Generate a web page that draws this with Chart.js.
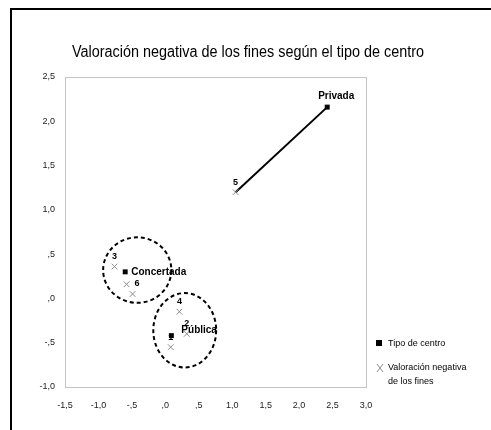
<!DOCTYPE html>
<html>
<head>
<meta charset="utf-8">
<script src="https://cdn.jsdelivr.net/npm/chart.js@4/dist/chart.umd.min.js"></script>
<style>
html, body { margin: 0; padding: 0; background: #fff; }
#wrap { width: 491px; height: 430px; }
</style>
</head>
<body>
<div id="wrap"><canvas id="chart" width="491" height="430"></canvas></div>
<script>
"use strict";
// centros (centroides)
const centros = ['Privada', 'Concertada', 'Pública'];
const centroX = [2.42, -0.60, 0.09];
const centroY = [2.16, 0.30, -0.42];
// fines
const fines = ['1', '2', '3', '4', '5', '6', '7'];
const finX = [0.08, 0.32, -0.76, 0.21, 1.05, -0.58, -0.49];
const finY = [-0.55, -0.40, 0.36, -0.15, 1.20, 0.16, 0.05];
// grupos rodeados por elipse discontinua
const grupoX = [-0.42, 0.29];
const grupoY = [0.32, -0.36];
const grupoRX = [0.51, 0.47];
const grupoRY = [0.37, 0.42];
// ejes
const xTicks = [-1.5, -1.0, -0.5, 0, 0.5, 1.0, 1.5, 2.0, 2.5, 3.0];
const xTickLabels = ['-1,5', '-1,0', '-,5', ',0', ',5', '1,0', '1,5', '2,0', '2,5', '3,0'];
const yTicks = [-1.0, -0.5, 0, 0.5, 1.0, 1.5, 2.0, 2.5];
const yTickLabels = ['-1,0', '-,5', ',0', ',5', '1,0', '1,5', '2,0', '2,5'];
const titulo = 'Valoración negativa de los fines según el tipo de centro';

const canvas = document.getElementById('chart');
const ctx = canvas.getContext('2d');

// donde va cada etiqueta respecto a su punto (null = tapada en el original)
const posCentro = { 'Privada': [9, -11, 'center'], 'Concertada': [6, 0, 'left'], 'Pública': [10, -5, 'left'] };
const posFin = { '6': [8, -1, 'left'], '7': null };

const extras = {
    id: 'extras',
    beforeDraw(chart) {
        const c = chart.ctx;
        c.save();
        c.fillStyle = '#fff';
        c.fillRect(0, 0, chart.width, chart.height);
        c.strokeStyle = '#000';
        c.lineWidth = 2;
        c.beginPath();
        c.moveTo(11, 430);
        c.lineTo(11, 9);
        c.lineTo(491, 9);
        c.stroke();
        // titulo estrecho, como el original
        c.fillStyle = '#000';
        c.font = '16px "Liberation Sans", Arial, sans-serif';
        c.textAlign = 'center';
        c.textBaseline = 'middle';
        c.translate(248, 53);
        c.scale(0.9, 1);
        c.fillText(titulo, 0, 0);
        c.restore();
    },
    afterDatasetsDraw(chart) {
        const c = chart.ctx;
        const a = chart.chartArea;
        const xs = chart.scales.x, ys = chart.scales.y;
        c.save();
        c.strokeStyle = '#c4c4c4';
        c.lineWidth = 1;
        c.strokeRect(a.left + 0.5, a.top + 0.5, a.right - a.left, a.bottom - a.top);

        // elipses
        c.strokeStyle = '#000';
        c.lineWidth = 2;
        c.setLineDash([4, 3]);
        grupoX.forEach((gx, i) => {
            const px = xs.getPixelForValue(gx), py = ys.getPixelForValue(grupoY[i]);
            const rx = xs.getPixelForValue(gx + grupoRX[i]) - px;
            const ry = py - ys.getPixelForValue(grupoY[i] + grupoRY[i]);
            c.beginPath();
            c.ellipse(px, py, rx, ry, 0, 0, Math.PI * 2);
            c.stroke();
        });
        c.setLineDash([]);

        // etiquetas
        c.fillStyle = '#000';
        c.textBaseline = 'middle';
        c.font = 'bold 9px "Liberation Sans", Arial, sans-serif';
        chart.getDatasetMeta(0).data.forEach((p, i) => {
            let o = posFin[fines[i]];
            if (o === null) return;
            if (!o) o = [0, -10, 'center'];
            c.textAlign = o[2];
            c.fillText(fines[i], p.x + o[0], p.y + o[1]);
        });
        c.font = 'bold 10px "Liberation Sans", Arial, sans-serif';
        chart.getDatasetMeta(1).data.forEach((p, i) => {
            const o = posCentro[centros[i]];
            c.textAlign = o[2];
            c.fillText(centros[i], p.x + o[0], p.y + o[1]);
        });

        // leyenda
        c.font = '9px "Liberation Sans", Arial, sans-serif';
        c.textAlign = 'left';
        c.fillStyle = '#000';
        c.fillRect(376, 340, 6, 6);
        c.fillText(chart.data.datasets[1].label, 388, 344);
        c.strokeStyle = '#8c8c8c';
        c.lineWidth = 1;
        c.beginPath();
        c.moveTo(377, 364); c.lineTo(383, 372);
        c.moveTo(383, 364); c.lineTo(377, 372);
        c.stroke();
        c.fillText('Valoración negativa', 388, 368);
        c.fillText('de los fines', 388, 382);
        c.restore();
    }
};

new Chart(ctx, {
    type: 'scatter',
    data: {
        datasets: [{
                label: 'Valoración negativa de los fines',
                data: finX.map((x, i) => ({ x: x, y: finY[i] })),
                pointStyle: 'crossRot',
                pointRadius: 4,
                borderColor: '#8c8c8c',
                borderWidth: 1
            },
            {
                label: 'Tipo de centro',
                data: centroX.map((x, i) => ({ x: x, y: centroY[i] })),
                pointStyle: 'rect',
                pointRadius: 3.5,
                backgroundColor: '#000',
                borderColor: '#000',
                borderWidth: 0
            },
            {
                label: 'enlace',
                type: 'line',
                data: [{ x: centroX[0], y: centroY[0] }, { x: finX[4], y: finY[4] }],
                borderColor: '#000',
                borderWidth: 2,
                pointRadius: 0,
                fill: false
            }
        ]
    },
    options: {
        responsive: false,
        animation: false,
        events: [],
        layout: { padding: { left: 0, top: 77, right: 125, bottom: 21 } },
        plugins: { legend: { display: false }, title: { display: false }, tooltip: { enabled: false } },
        scales: {
            x: {
                type: 'linear',
                min: -1.5,
                max: 3.0,
                afterBuildTicks: s => { s.ticks = xTicks.map(v => ({ value: v })); },
                afterFit: s => { s.height = 22; },
                grid: { display: false },
                border: { color: '#c4c4c4' },
                ticks: {
                    padding: 5,
                    maxRotation: 0,
                    autoSkip: false,
                    color: '#222',
                    font: { size: 9, family: '"Liberation Sans", Arial, sans-serif' },
                    callback: v => xTickLabels[xTicks.indexOf(v)]
                }
            },
            y: {
                type: 'linear',
                min: -1.0,
                max: 2.5,
                afterBuildTicks: s => { s.ticks = yTicks.map(v => ({ value: v })); },
                afterFit: s => { s.width = 65; },
                grid: { display: false },
                border: { color: '#c4c4c4' },
                ticks: {
                    padding: 2,
                    autoSkip: false,
                    color: '#222',
                    font: { size: 9, family: '"Liberation Sans", Arial, sans-serif' },
                    callback: v => yTickLabels[yTicks.indexOf(v)]
                }
            }
        }
    },
    plugins: [extras]
});
</script>
</body>
</html>
